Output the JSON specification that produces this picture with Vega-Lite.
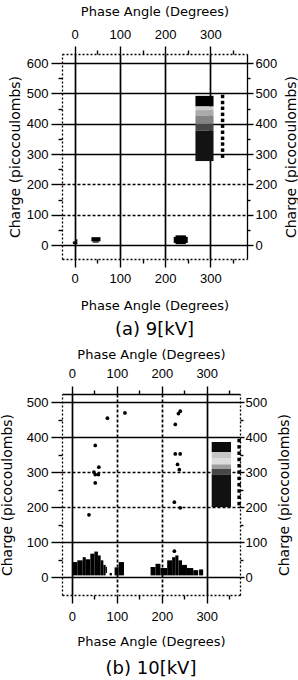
{
  "$schema": "https://vega.github.io/schema/vega-lite/v6.json",
  "background": "white",
  "padding": {"left": 0, "top": 5, "right": 0, "bottom": 0},
  "spacing": 9,
  "config": {
    "view": {"stroke": null},
    "axis": {
      "labelFont": "Liberation Sans", "labelFontSize": 13, "labelColor": "#000",
      "titleFont": "DejaVu Sans", "titleFontSize": 13, "titleFontWeight": "normal", "titleColor": "#000",
      "tickColor": "#000", "tickWidth": 1.4, "domainColor": "#000", "domainWidth": 1.3,
      "gridColor": "#000", "gridWidth": 1.7, "labelFlush": false, "labelOverlap": false
    }
  },
  "datasets": {
    "a_blobs": [
      {"p0": -4, "p1": 6, "q0": 3, "q1": 12},
      {"p0": 1, "p1": 6, "q0": 12, "q1": 19},
      {"p0": 37, "p1": 57, "q0": 12, "q1": 26},
      {"p0": 40, "p1": 53, "q0": 8, "q1": 12},
      {"p0": 219, "p1": 250, "q0": 7, "q1": 27},
      {"p0": 223, "p1": 246, "q0": 3, "q1": 32}
    ],
    "a_bar": [
      {"p0": 267, "p1": 307, "q0": 457, "q1": 492, "shade": 0},
      {"p0": 267, "p1": 307, "q0": 445, "q1": 457, "shade": 0.82},
      {"p0": 267, "p1": 307, "q0": 426, "q1": 445, "shade": 0.7},
      {"p0": 267, "p1": 307, "q0": 400, "q1": 426, "shade": 0.55},
      {"p0": 267, "p1": 307, "q0": 377, "q1": 400, "shade": 0.3},
      {"p0": 267, "p1": 307, "q0": 277, "q1": 377, "shade": 0.06}
    ],
    "a_keys": [
      {"p": 327, "q": 490}, {"p": 327, "q": 470}, {"p": 327, "q": 451}, {"p": 327, "q": 431},
      {"p": 327, "q": 411}, {"p": 327, "q": 392}, {"p": 327, "q": 372}, {"p": 327, "q": 352},
      {"p": 327, "q": 333}, {"p": 327, "q": 313}, {"p": 327, "q": 293}
    ],
    "b_clusters": [
      {"p0": 2, "p1": 12, "q0": 5, "q1": 43},
      {"p0": 12, "p1": 24, "q0": 5, "q1": 48},
      {"p0": 24, "p1": 31, "q0": 5, "q1": 57},
      {"p0": 31, "p1": 41, "q0": 5, "q1": 51},
      {"p0": 41, "p1": 50, "q0": 5, "q1": 67},
      {"p0": 50, "p1": 58, "q0": 5, "q1": 73},
      {"p0": 58, "p1": 64, "q0": 5, "q1": 62},
      {"p0": 64, "p1": 70, "q0": 5, "q1": 48},
      {"p0": 70, "p1": 75, "q0": 5, "q1": 35},
      {"p0": 75, "p1": 78, "q0": 12, "q1": 30},
      {"p0": 84, "p1": 89, "q0": 5, "q1": 12},
      {"p0": 95, "p1": 104, "q0": 5, "q1": 28},
      {"p0": 104, "p1": 116, "q0": 5, "q1": 43},
      {"p0": 175, "p1": 186, "q0": 5, "q1": 29},
      {"p0": 186, "p1": 197, "q0": 5, "q1": 38},
      {"p0": 197, "p1": 212, "q0": 5, "q1": 26},
      {"p0": 212, "p1": 223, "q0": 5, "q1": 48},
      {"p0": 223, "p1": 230, "q0": 5, "q1": 57},
      {"p0": 230, "p1": 237, "q0": 5, "q1": 62},
      {"p0": 237, "p1": 245, "q0": 5, "q1": 48},
      {"p0": 245, "p1": 256, "q0": 5, "q1": 35},
      {"p0": 256, "p1": 270, "q0": 5, "q1": 26},
      {"p0": 270, "p1": 281, "q0": 5, "q1": 20},
      {"p0": 283, "p1": 292, "q0": 5, "q1": 22}
    ],
    "b_bar": [
      {"p0": 311, "p1": 354, "q0": 357, "q1": 386, "shade": 0.03},
      {"p0": 311, "p1": 354, "q0": 340, "q1": 357, "shade": 0.8},
      {"p0": 311, "p1": 354, "q0": 322, "q1": 340, "shade": 0.88},
      {"p0": 311, "p1": 354, "q0": 309, "q1": 322, "shade": 0.65},
      {"p0": 311, "p1": 354, "q0": 292, "q1": 309, "shade": 0.3},
      {"p0": 311, "p1": 354, "q0": 200, "q1": 292, "shade": 0.05}
    ],
    "b_keys": [
      {"p": 372, "q": 390}, {"p": 372, "q": 372}, {"p": 372, "q": 354}, {"p": 372, "q": 336},
      {"p": 372, "q": 318}, {"p": 372, "q": 300}, {"p": 372, "q": 282}, {"p": 372, "q": 264},
      {"p": 372, "q": 246}, {"p": 372, "q": 228}, {"p": 372, "q": 210}
    ],
    "b_pts": [
      {"p": 79, "q": 454}, {"p": 118, "q": 469}, {"p": 241, "q": 474}, {"p": 237, "q": 467},
      {"p": 230, "q": 436}, {"p": 52, "q": 376}, {"p": 230, "q": 352}, {"p": 241, "q": 352},
      {"p": 60, "q": 314}, {"p": 49, "q": 300}, {"p": 59, "q": 293}, {"p": 52, "q": 293},
      {"p": 52, "q": 269}, {"p": 235, "q": 322}, {"p": 239, "q": 307}, {"p": 228, "q": 214},
      {"p": 241, "q": 198}, {"p": 38, "q": 178}, {"p": 228, "q": 74}
    ]
  },
  "vconcat": [
    {
      "width": 185,
      "height": 205,
      "title": {"text": "(a) 9[kV]", "orient": "bottom", "anchor": "middle", "frame": "group", "font": "DejaVu Sans", "fontSize": 18, "fontWeight": "normal", "color": "#000", "offset": 9},
      "resolve": {"axis": {"x": "independent", "y": "independent"}},
      "layer": [
        {
          "data": {"name": "a_blobs"},
          "mark": {"type": "rect", "color": "#000"},
          "encoding": {
            "x": {"field": "p0", "type": "quantitative",
              "scale": {"domain": [-28, 381], "nice": false, "zero": false},
              "axis": {"orient": "bottom", "title": "Phase Angle (Degrees)",
                "values": [0, 50, 100, 150, 200, 250, 300, 350],
                "labelExpr": "datum.value % 100 === 0 ? datum.label : ''",
                "tickSize": {"condition": {"test": "datum.value % 100 === 0", "value": 8}, "value": 4},
                "labelPadding": 5, "titlePadding": 14,
                "grid": true,
                "gridOpacity": {"condition": {"test": "datum.value % 100 === 0", "value": 1}, "value": 0},
                "domainDash": [2, 2]}},
            "x2": {"field": "p1"},
            "y": {"field": "q0", "type": "quantitative",
              "scale": {"domain": [-46, 630], "nice": false, "zero": false},
              "axis": {"orient": "left", "title": "Charge (picocoulombs)", "titleFontSize": 14,
                "values": [0, 50, 100, 150, 200, 250, 300, 350, 400, 450, 500, 550, 600],
                "labelExpr": "datum.value % 100 === 0 ? datum.label : ''",
                "tickSize": {"condition": {"test": "datum.value % 100 === 0", "value": 11}, "value": 4},
                "labelPadding": 3, "titlePadding": 4,
                "grid": true,
                "gridOpacity": {"condition": {"test": "datum.value % 100 === 0", "value": 1}, "value": 0},
                "gridDash": {"condition": {"test": "datum.value === 100 || datum.value === 200", "value": [3, 2]}, "value": []},
                "domainDash": [2, 2]}},
            "y2": {"field": "q1"}
          }
        },
        {
          "data": {"name": "a_bar"},
          "mark": {"type": "rect"},
          "encoding": {
            "x": {"field": "p0", "type": "quantitative",
              "scale": {"domain": [-28, 381], "nice": false, "zero": false},
              "axis": {"orient": "top", "title": "Phase Angle (Degrees)",
                "values": [0, 50, 100, 150, 200, 250, 300, 350],
                "labelExpr": "datum.value % 100 === 0 ? datum.label : ''",
                "tickSize": {"condition": {"test": "datum.value % 100 === 0", "value": 8}, "value": 4},
                "labelPadding": 5, "titlePadding": 10, "grid": false, "domainDash": [2, 2]}},
            "x2": {"field": "p1"},
            "y": {"field": "q0", "type": "quantitative",
              "scale": {"domain": [-46, 630], "nice": false, "zero": false},
              "axis": {"orient": "right", "title": "Charge (picocoulombs)", "titleFontSize": 14, "titleAngle": 270, "titleBaseline": "top",
                "values": [0, 50, 100, 150, 200, 250, 300, 350, 400, 450, 500, 550, 600],
                "labelExpr": "datum.value % 100 === 0 ? datum.label : ''",
                "tickSize": {"condition": {"test": "datum.value % 100 === 0", "value": 6}, "value": 3},
                "labelPadding": 2, "titlePadding": 8, "grid": false}},
            "y2": {"field": "q1"},
            "color": {"field": "shade", "type": "quantitative", "scale": {"domain": [0, 1], "range": ["#000000", "#ffffff"]}, "legend": null}
          }
        },
        {
          "data": {"name": "a_keys"},
          "mark": {"type": "point", "shape": "square", "filled": true, "size": 12, "color": "#000", "opacity": 1},
          "encoding": {
            "x": {"field": "p", "type": "quantitative", "scale": {"domain": [-28, 381], "nice": false, "zero": false}, "axis": null},
            "y": {"field": "q", "type": "quantitative", "scale": {"domain": [-46, 630], "nice": false, "zero": false}, "axis": null}
          }
        }
      ]
    },
    {
      "width": 178,
      "height": 201,
      "title": {"text": "(b) 10[kV]", "orient": "bottom", "anchor": "middle", "frame": "group", "font": "DejaVu Sans", "fontSize": 18, "fontWeight": "normal", "color": "#000", "offset": 12},
      "resolve": {"axis": {"x": "independent", "y": "independent"}},
      "layer": [
        {
          "data": {"name": "b_clusters"},
          "mark": {"type": "rect", "color": "#000"},
          "encoding": {
            "x": {"field": "p0", "type": "quantitative",
              "scale": {"domain": [-22, 374], "nice": false, "zero": false},
              "axis": {"orient": "bottom", "title": "Phase Angle (Degrees)",
                "values": [0, 50, 100, 150, 200, 250, 300, 350],
                "labelExpr": "datum.value % 100 === 0 ? datum.label : ''",
                "tickSize": {"condition": {"test": "datum.value % 100 === 0", "value": 8}, "value": 4},
                "labelPadding": 7, "titlePadding": 12,
                "grid": true,
                "gridOpacity": {"condition": {"test": "datum.value % 100 === 0", "value": 1}, "value": 0},
                "gridDash": {"condition": {"test": "datum.value === 100 || datum.value === 200", "value": [3, 2]}, "value": []},
                "domainDash": [2, 2]}},
            "x2": {"field": "p1"},
            "y": {"field": "q0", "type": "quantitative",
              "scale": {"domain": [-51, 523], "nice": false, "zero": false},
              "axis": {"orient": "left", "title": "Charge (picocoulombs)", "titleFontSize": 14,
                "values": [0, 50, 100, 150, 200, 250, 300, 350, 400, 450, 500],
                "labelExpr": "datum.value % 100 === 0 ? datum.label : ''",
                "tickSize": {"condition": {"test": "datum.value % 100 === 0", "value": 11}, "value": 4},
                "labelPadding": 3, "titlePadding": 12,
                "grid": true,
                "gridOpacity": {"condition": {"test": "datum.value % 100 === 0", "value": 1}, "value": 0},
                "gridDash": {"condition": {"test": "datum.value === 300 || datum.value === 200", "value": [3, 2]}, "value": []},
                "domainDash": [2, 2]}},
            "y2": {"field": "q1"}
          }
        },
        {
          "data": {"name": "b_bar"},
          "mark": {"type": "rect"},
          "encoding": {
            "x": {"field": "p0", "type": "quantitative",
              "scale": {"domain": [-22, 374], "nice": false, "zero": false},
              "axis": {"orient": "top", "title": "Phase Angle (Degrees)",
                "values": [0, 50, 100, 150, 200, 250, 300, 350],
                "labelExpr": "datum.value % 100 === 0 ? datum.label : ''",
                "tickSize": {"condition": {"test": "datum.value % 100 === 0", "value": 8}, "value": 4},
                "labelPadding": 6, "titlePadding": 6, "grid": false}},
            "x2": {"field": "p1"},
            "y": {"field": "q0", "type": "quantitative",
              "scale": {"domain": [-51, 523], "nice": false, "zero": false},
              "axis": {"orient": "right", "title": "Charge (picocoulombs)", "titleFontSize": 14, "titleAngle": 270, "titleBaseline": "top",
                "values": [0, 50, 100, 150, 200, 250, 300, 350, 400, 450, 500],
                "labelExpr": "datum.value % 100 === 0 ? datum.label : ''",
                "tickSize": {"condition": {"test": "datum.value % 100 === 0", "value": 4}, "value": 3},
                "labelPadding": 1, "titlePadding": 11, "grid": false, "domainDash": [2, 2]}},
            "y2": {"field": "q1"},
            "color": {"field": "shade", "type": "quantitative", "scale": {"domain": [0, 1], "range": ["#000000", "#ffffff"]}, "legend": null}
          }
        },
        {
          "data": {"name": "b_keys"},
          "mark": {"type": "point", "shape": "square", "filled": true, "size": 12, "color": "#000", "opacity": 1},
          "encoding": {
            "x": {"field": "p", "type": "quantitative", "scale": {"domain": [-22, 374], "nice": false, "zero": false}, "axis": null},
            "y": {"field": "q", "type": "quantitative", "scale": {"domain": [-51, 523], "nice": false, "zero": false}, "axis": null}
          }
        },
        {
          "data": {"name": "b_pts"},
          "mark": {"type": "circle", "size": 14, "color": "#000", "opacity": 1},
          "encoding": {
            "x": {"field": "p", "type": "quantitative", "scale": {"domain": [-22, 374], "nice": false, "zero": false}, "axis": null},
            "y": {"field": "q", "type": "quantitative", "scale": {"domain": [-51, 523], "nice": false, "zero": false}, "axis": null}
          }
        }
      ]
    }
  ]
}
